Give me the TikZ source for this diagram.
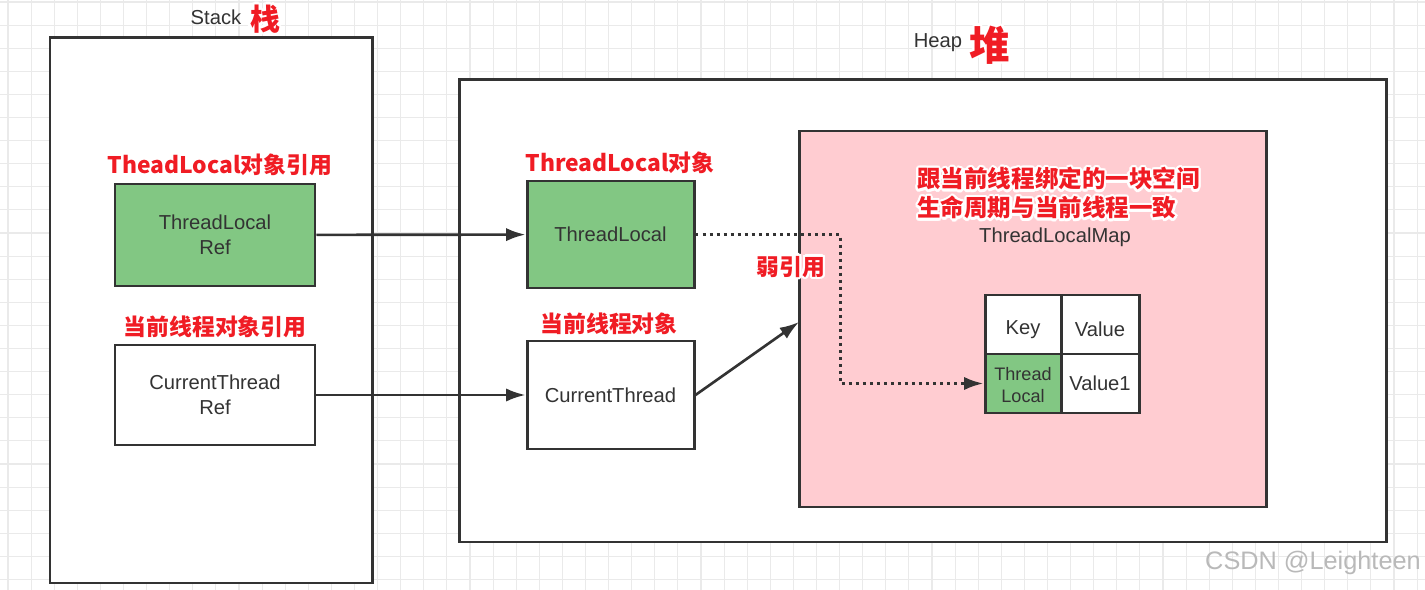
\documentclass[tikz,border=0pt]{standalone}
\usepackage{fontspec}
\setmainfont{Liberation Sans}
\newfontfamily\cjk{Noto Sans CJK SC}
\usepackage{contour}
\contourlength{1.3pt}
\usetikzlibrary{arrows.meta,fit}
\definecolor{boxline}{RGB}{51,51,51}
\definecolor{txt}{RGB}{51,51,51}
\definecolor{gridc}{RGB}{234,234,234}
\definecolor{greenfill}{RGB}{130,199,131}
\definecolor{pinkfill}{RGB}{255,204,209}
\definecolor{redtxt}{RGB}{240,28,36}
\definecolor{wm}{RGB}{185,185,185}
\tikzset{
  box/.style={draw=boxline, line width=1.7pt, inner sep=0pt, fill=white},
  gbox/.style={box, fill=greenfill},
  pbox/.style={box, fill=pinkfill},
  lbl/.style={text=txt, font=\fontsize{11.5}{14}\selectfont, align=center},
  redlbl/.style={text=redtxt, font=\cjk\bfseries\fontsize{13}{16}\selectfont, inner sep=0pt},
  arr/.style={draw=boxline, line width=1.5pt, -{Latex[length=11pt,width=7.5pt]}},
  dotline/.style={draw=boxline, line width=1.7pt, dash pattern=on 1.7pt off 2.3pt, -{Latex[length=11pt,width=7.5pt]}},
}
\begin{document}
\begin{tikzpicture}[x=0.02cm,y=-0.02cm]
\useasboundingbox (0,0) rectangle (1425,590);
\fill[white] (0,0) rectangle (1425,590);
\foreach \i in {0,...,61} \draw[gridc, line width=0.6pt] ({8+23.1*\i},0) -- ({8+23.1*\i},590);
\foreach \i in {0,...,25} \draw[gridc, line width=0.6pt] (0,{2+23.1*\i}) -- (1425,{2+23.1*\i});

% containers
\node[box, fit={(50,38) (372,583)}] (stack) {};
\node[box, fit={(459,80) (1386,542)}] (heap) {};
\node[pbox, fit={(799,131) (1266,507)}] (map) {};

% titles
\node[lbl] (stacklbl) at (216,17) {Stack};
\node[redlbl, font=\cjk\bfseries\fontsize{17}{20}\selectfont] (stackcn) at (265,20) {\contour{white}{栈}};
\node[lbl] (heaplbl) at (938,43) {Heap};
\node[redlbl, font=\cjk\bfseries\fontsize{23}{26}\selectfont] (heapcn) at (990,46) {\contour{white}{堆}};

% stack nodes
\node[gbox, fit={(115,184) (315,286)}] (tlref) {};
\node[lbl] (tlreftxt) at (tlref) {ThreadLocal\\Ref};
\node[box, fit={(115,345) (315,445)}] (ctref) {};
\node[lbl] (ctreftxt) at (ctref) {CurrentThread\\Ref};
\node[redlbl] (tlreflbl) at (220,166) {\contour{white}{TheadLocal对象引用}};
\node[redlbl] (ctreflbl) at (215,328) {\contour{white}{当前线程对象引用}};

% heap nodes
\node[gbox, fit={(527,181) (694,288)}] (tl) {};
\node[lbl] (tltxt) at (tl) {ThreadLocal};
\node[box, fit={(527,341) (694,449)}] (ct) {};
\node[lbl] (cttxt) at (ct) {CurrentThread};
\node[redlbl] (tllbl) at (620,164) {\contour{white}{ThreadLocal对象}};
\node[redlbl] (ctlbl) at (609,325) {\contour{white}{当前线程对象}};
\node[redlbl] (weak) at (791,268) {\contour{white}{弱引用}};

% map text
\node[redlbl, anchor=west, font=\cjk\bfseries\fontsize{13.4}{16}\selectfont] (desc1) at (917,180) {\contour{white}{跟当前线程绑定的一块空间}};
\node[redlbl, anchor=west, font=\cjk\bfseries\fontsize{13.4}{16}\selectfont] (desc2) at (917,209) {\contour{white}{生命周期与当前线程一致}};
\node[lbl] (maplbl) at (1055,237) {ThreadLocalMap};

% table
\node[box, fit={(985,295) (1061,354)}] (keyc) {};
\node[lbl] (keyt) at ([yshift=-0.1cm]keyc.center) {Key};
\node[box, fit={(1061,295) (1139,354)}] (valc) {};
\node[lbl] (valt) at ([yshift=-0.1cm]valc.center) {Value};
\node[gbox, fit={(985,354) (1061,413)}] (tlcell) {};
\node[lbl, font=\fontsize{10.3}{12.5}\selectfont] (tlct) at ([yshift=-0.04cm]tlcell.center) {Thread\\Local};
\node[box, fit={(1061,354) (1139,413)}] (v1c) {};
\node[lbl] (v1t) at (v1c) {Value1};

% connectors
\coordinate (mapin) at (799,322);
\coordinate (bendx) at (840,0);
\draw[arr] (tlref) -- (tl);
\draw[arr] (ctref) -- (ct);
\draw[arr] (ct.east) -- (mapin);
\draw[dotline] (tl.east) -- (tl.east -| bendx) |- (tlcell.west);

% watermark
\node[text=wm, font=\fontsize{14.4}{17}\selectfont] (wmark) at (1313,563) {CSDN @Leighteen};
\end{tikzpicture}
\end{document}
